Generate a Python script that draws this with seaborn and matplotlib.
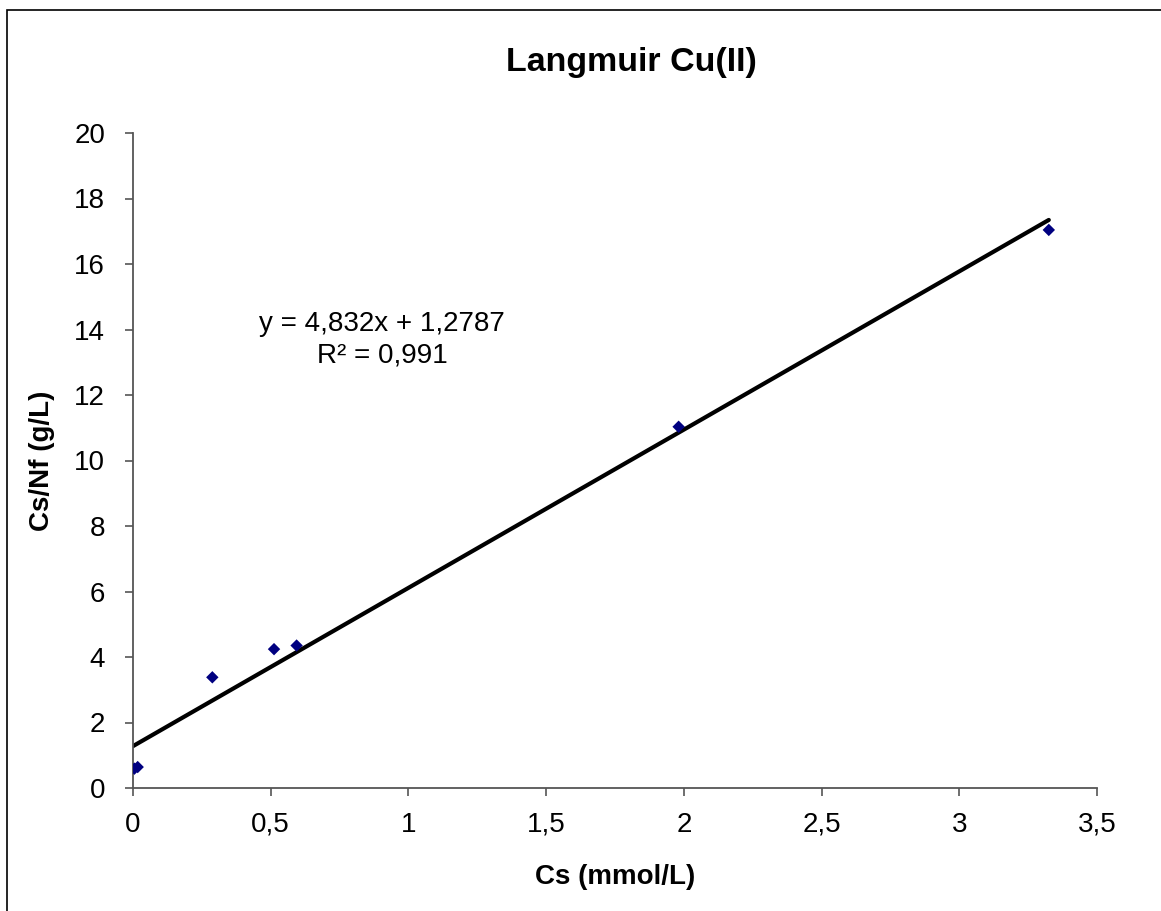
import numpy as np
import pandas as pd
import matplotlib
matplotlib.use("Agg")
import matplotlib.pyplot as plt
from matplotlib.patches import Rectangle
from matplotlib.ticker import FuncFormatter, MultipleLocator
import seaborn as sns

# Langmuir isotherm data for Cu(II)
cs = [0.005, 0.017, 0.288, 0.512, 0.594, 1.981, 3.325]          # Cs (mmol/L)
cs_nf = [0.59, 0.64, 3.38, 4.24, 4.35, 11.03, 17.04]             # Cs/Nf (g/L)
slope = 4.832
intercept = 1.2787
r2 = 0.991

sns.set_theme(style="white")
plt.rcParams["font.family"] = ["Liberation Sans", "DejaVu Sans"]
plt.rcParams["text.color"] = "black"
plt.rcParams["axes.labelcolor"] = "black"

fig = plt.figure(figsize=(11.61, 9.11), dpi=100)
ax = fig.add_axes([133 / 1161, 123 / 911, 964 / 1161, 655 / 911])

df = pd.DataFrame({"Cs": cs, "CsNf": cs_nf})

# linear trend line from the fitted coefficients
x_fit = np.array([0.0, max(cs)])
fit = pd.DataFrame({"Cs": x_fit, "CsNf": slope * x_fit + intercept})
sns.lineplot(data=fit, x="Cs", y="CsNf", ax=ax, color="black", linewidth=3.0, zorder=2)

sns.scatterplot(data=df, x="Cs", y="CsNf", ax=ax, marker="D", s=40,
                color="#000080", edgecolor="none", linewidth=0, zorder=3)

ax.set_xlim(0, 3.5)
ax.set_ylim(0, 20)
ax.xaxis.set_major_locator(MultipleLocator(0.5))
ax.yaxis.set_major_locator(MultipleLocator(2))
comma = FuncFormatter(lambda v, p: f"{v:g}".replace(".", ","))
ax.xaxis.set_major_formatter(comma)
ax.yaxis.set_major_formatter(comma)

for s in ["top", "right"]:
    ax.spines[s].set_visible(False)
for s in ["left", "bottom"]:
    ax.spines[s].set_color("#555555")
    ax.spines[s].set_linewidth(1.3)

ax.tick_params(axis="y", direction="out", length=6, width=1.2, color="#555555",
               pad=14, labelsize=20, labelcolor="black", left=True)
ax.tick_params(axis="x", direction="out", length=6, width=1.2, color="#555555",
               pad=11, labelsize=20, labelcolor="black", bottom=True)

ax.set_xlabel("Cs (mmol/L)", fontsize=20, fontweight="bold", labelpad=19)
ax.set_ylabel("Cs/Nf (g/L)", fontsize=20, fontweight="bold", labelpad=14)

fig.text(631 / 1161, 1 - 63 / 911, "Langmuir Cu(II)", fontsize=24.5,
         fontweight="bold", ha="center", va="center")

eq = f"y = {slope:g}x + {intercept:g}".replace(".", ",")
rr = f"R² = {r2:g}".replace(".", ",")
ax.text(0.905, 13.68, eq + "\n" + rr, fontsize=20,
        ha="center", va="center", linespacing=1.3)

# outer chart border
fig.patches.append(Rectangle((7 / 1161, -0.1), 1.2, 1 - 10 / 911 + 0.1,
                             transform=fig.transFigure, fill=False,
                             edgecolor="black", linewidth=1.2))

fig.savefig("out.png", dpi=100)
